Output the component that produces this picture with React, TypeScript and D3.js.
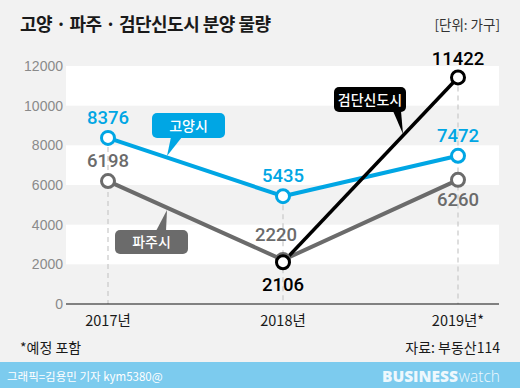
import React from "react";
import * as d3 from "d3";

const years = ["2017년", "2018년", "2019년*"];
const goyang = [8376, 5435, 7472];
const paju = [6198, 2220, 6260];
const geomdanYears = ["2018년", "2019년*"];
const geomdan = [2106, 11422];
const yTicks = [0, 2000, 4000, 6000, 8000, 10000, 12000];

const W = 520, H = 388;
const BLUE = "#00a6e4";
const GRAY = "#6b6b6b";
const BLACK = "#000000";
const KR = "'Noto Sans CJK KR', 'Noto Sans', sans-serif";
const NUM = "Roboto, 'Noto Sans', sans-serif";

export default function App() {
  const x = d3.scalePoint<string>().domain(years).range([108, 458]);
  const y = d3.scaleLinear().domain([0, 12000]).range([304, 66]);
  const plotL = 66, plotR = 499;
  const line = d3.line<[number, number]>().x(d => d[0]).y(d => d[1]);

  const gPts: [number, number][] = years.map((yr, i) => [x(yr)!, y(goyang[i])]);
  const pPts: [number, number][] = years.map((yr, i) => [x(yr)!, y(paju[i])]);
  const kPts: [number, number][] = geomdanYears.map((yr, i) => [x(yr)!, y(geomdan[i])]);

  const bands: [number, number][] = [[10000, 12000], [6000, 8000], [2000, 4000]];

  const labelStyle = { fontFamily: NUM, fontSize: 18.5, fontWeight: 500 } as const;

  const gLab: [number, number][] = [[0, -14], [0, -14], [0, -14]];
  const pLab: [number, number][] = [[0, -14], [-7, -19], [0, 26]];
  const kLab: [number, number][] = [[0, 29], [0, -12]];

  const maxY = [goyang, paju].reduce((acc, s) => acc.map((v, i) => Math.max(v, s[i])), [0, 0, 0]);
  const topVal = years.map((yr, i) => {
    const j = geomdanYears.indexOf(yr);
    return j >= 0 ? Math.max(maxY[i], geomdan[j]) : maxY[i];
  });

  const callout = (
    bx: number, by: number, bw: number, bh: number, fill: string, text: string,
    ptr: [number, number][]
  ) => (
    <g>
      <rect x={bx} y={by} width={bw} height={bh} rx={5} fill={fill} />
      <path d={`M${ptr[0][0]},${ptr[0][1]}L${ptr[1][0]},${ptr[1][1]}L${ptr[2][0]},${ptr[2][1]}Z`} fill={fill} />
      <text x={bx + bw / 2} y={by + bh / 2 + 5} textAnchor="middle" fill="#fff"
        style={{ fontFamily: KR, fontSize: 14, fontWeight: 500 }}>{text}</text>
    </g>
  );

  return (
    <svg width={W} height={H} style={{ position: "absolute", left: 0, top: 0, display: "block" }}>
      <rect x={0} y={0} width={W} height={H} fill="#f2f2f2" />
      <text x={20} y={31} fill="#1a1a1a" style={{ fontFamily: KR, fontSize: 18, fontWeight: 700, letterSpacing: -0.5 }}>
        고양 · 파주 · 검단신도시 분양 물량
      </text>
      <text x={500} y={30} textAnchor="end" fill="#333" style={{ fontFamily: KR, fontSize: 13.5 }}>
        [단위: 가구]
      </text>

      {bands.map(([a, b], i) => (
        <rect key={i} x={plotL} y={y(b)} width={plotR - plotL} height={y(a) - y(b)} fill="#ffffff" />
      ))}

      {yTicks.map(t => (
        <text key={t} x={63} y={y(t) + 5} textAnchor="end" fill="#8a8a8a"
          style={{ fontFamily: "'Liberation Sans', Arial, sans-serif", fontSize: 14 }}>{t}</text>
      ))}

      {years.map((yr, i) => (
        <line key={yr} x1={x(yr)} x2={x(yr)} y1={y(topVal[i])} y2={y(0)} stroke="#c8c8c8"
          strokeWidth={1.2} strokeDasharray="5,4" />
      ))}

      <line x1={plotL} x2={plotR} y1={y(0)} y2={y(0)} stroke="#111" strokeWidth={1.2} />

      {years.map(yr => (
        <text key={yr} x={x(yr)} y={326} textAnchor="middle" fill="#1a1a1a"
          style={{ fontFamily: KR, fontSize: 14.5 }}>{yr}</text>
      ))}

      <path d={line(pPts)!} fill="none" stroke={GRAY} strokeWidth={4} strokeLinejoin="round" />
      <path d={line(gPts)!} fill="none" stroke={BLUE} strokeWidth={4} strokeLinejoin="round" />
      <path d={line(kPts)!} fill="none" stroke={BLACK} strokeWidth={3.5} strokeLinejoin="round" />

      {pPts.map((p, i) => (
        <circle key={"pc" + i} cx={p[0]} cy={p[1]} r={6.5} fill="#fff" stroke={GRAY} strokeWidth={3} />
      ))}
      {gPts.map((p, i) => (
        <circle key={"gc" + i} cx={p[0]} cy={p[1]} r={6.5} fill="#fff" stroke={BLUE} strokeWidth={3} />
      ))}
      {kPts.map((p, i) => (
        <circle key={"kc" + i} cx={p[0]} cy={p[1]} r={6.5} fill="#fff" stroke={BLACK} strokeWidth={3} />
      ))}

      {gPts.map((p, i) => (
        <text key={"gl" + i} x={p[0] + gLab[i][0]} y={p[1] + gLab[i][1]} textAnchor="middle" fill={BLUE} style={labelStyle}>
          {goyang[i]}
        </text>
      ))}
      {pPts.map((p, i) => (
        <text key={"pl" + i} x={p[0] + pLab[i][0]} y={p[1] + pLab[i][1]} textAnchor="middle" fill={GRAY} style={labelStyle}>
          {paju[i]}
        </text>
      ))}
      {kPts.map((p, i) => (
        <text key={"kl" + i} x={p[0] + kLab[i][0]} y={p[1] + kLab[i][1]} textAnchor="middle" fill={BLACK} style={labelStyle}>
          {geomdan[i]}
        </text>
      ))}

      {callout(152, 113, 73, 25, BLUE, "고양시", [[171, 137], [182, 137], [167, 156]])}
      {callout(115, 230, 73, 24, GRAY, "파주시", [[156, 231], [166, 231], [167, 210]])}
      {callout(334, 87, 72, 25, BLACK, "검단신도시", [[393, 111], [401, 111], [403, 134]])}

      <text x={20} y={353} fill="#1a1a1a" style={{ fontFamily: KR, fontSize: 14 }}>*예정 포함</text>
      <text x={500} y={353} textAnchor="end" fill="#1a1a1a" style={{ fontFamily: KR, fontSize: 14 }}>자료: 부동산114</text>

      <rect x={0} y={362} width={W} height={26} fill="#7ccbee" />
      <text x={7} y={381} fill="#ffffff" style={{ fontFamily: KR, fontSize: 11.5 }}>그래픽=김용민 기자 kym5380@</text>
      <text x={382} y={382} fill="#eef8fd" style={{ fontFamily: "'Open Sans', Roboto, sans-serif", fontSize: 15.5 }}>
        <tspan style={{ fontWeight: 800 }}>BUSINESS</tspan>
        <tspan dx={1} style={{ fontWeight: 300 }}>watch</tspan>
      </text>
    </svg>
  );
}
